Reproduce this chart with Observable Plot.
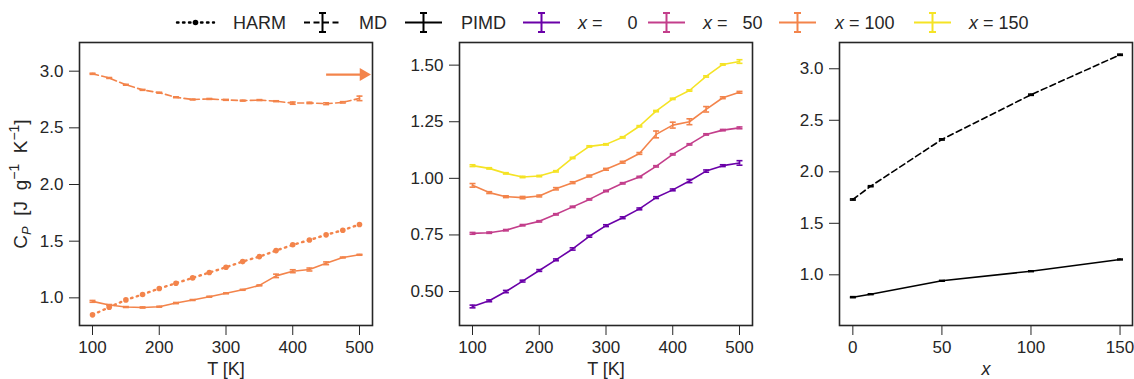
<!DOCTYPE html>
<html>
<head>
<meta charset="utf-8">
<script src="https://cdn.jsdelivr.net/npm/d3@7"></script>
<script src="https://cdn.jsdelivr.net/npm/@observablehq/plot@0.6"></script>
<style>
  html, body { margin: 0; padding: 0; background: #fff; }
  #root { position: relative; width: 1134px; height: 379px; overflow: hidden; font-family: "Liberation Sans", Arial, sans-serif; color: #262626; }
  .panel { position: absolute; top: 0; }
  .lab { position: absolute; font-size: 18px; color: #262626; white-space: nowrap; transform: translateX(-50%); }
</style>
</head>
<body>
<div id="root"></div>
<script>
// ---------------- data ----------------
const T = [100, 125, 150, 175, 200, 225, 250, 275, 300, 325, 350, 375, 400, 425, 450, 475, 500];

// x = 100 : harmonic, classical MD, PIMD (left panel)
const harm100 = [0.85, 0.917, 0.982, 1.03, 1.082, 1.129, 1.176, 1.223, 1.27, 1.32, 1.364, 1.417, 1.468, 1.51, 1.556, 1.597, 1.647];
const md100 = [2.977, 2.94, 2.88, 2.835, 2.81, 2.77, 2.75, 2.755, 2.747, 2.74, 2.745, 2.735, 2.718, 2.72, 2.713, 2.725, 2.76];
const md100Err = [0.005, 0.004, 0.004, 0.004, 0.004, 0.004, 0.004, 0.004, 0.004, 0.004, 0.004, 0.004, 0.01, 0.006, 0.008, 0.006, 0.02];

// PIMD, per x (middle panel)
const pimd0 = [0.434, 0.459, 0.5, 0.546, 0.593, 0.64, 0.688, 0.744, 0.791, 0.826, 0.865, 0.915, 0.949, 0.988, 1.032, 1.056, 1.068];
const pimd0Err = [0.006, 0.004, 0.005, 0.004, 0.004, 0.004, 0.005, 0.004, 0.004, 0.004, 0.004, 0.004, 0.004, 0.007, 0.005, 0.004, 0.01];
const pimd50 = [0.757, 0.76, 0.771, 0.793, 0.81, 0.841, 0.874, 0.907, 0.944, 0.978, 1.006, 1.053, 1.106, 1.15, 1.194, 1.213, 1.223];
const pimd50Err = [0.004, 0.003, 0.003, 0.003, 0.003, 0.003, 0.003, 0.003, 0.003, 0.003, 0.003, 0.003, 0.003, 0.003, 0.003, 0.003, 0.004];
const pimd100 = [0.969, 0.937, 0.919, 0.915, 0.922, 0.954, 0.981, 1.01, 1.04, 1.071, 1.11, 1.194, 1.235, 1.25, 1.305, 1.356, 1.38];
const pimd100Err = [0.008, 0.004, 0.004, 0.005, 0.004, 0.005, 0.004, 0.004, 0.004, 0.004, 0.004, 0.015, 0.013, 0.013, 0.012, 0.004, 0.004];
const pimd150 = [1.056, 1.044, 1.022, 1.006, 1.01, 1.031, 1.09, 1.141, 1.15, 1.181, 1.23, 1.297, 1.351, 1.388, 1.45, 1.503, 1.516];
const pimd150Err = [0.004, 0.003, 0.003, 0.003, 0.003, 0.003, 0.003, 0.003, 0.003, 0.003, 0.003, 0.003, 0.003, 0.003, 0.003, 0.003, 0.008];

// at T = 300 K vs x (right panel)
const X = [0, 10, 50, 100, 150];
const md300 = [1.731, 1.86, 2.314, 2.748, 3.136];
const md300Err = [0.006, 0.005, 0.006, 0.006, 0.006];
const pimd300 = [0.783, 0.812, 0.942, 1.035, 1.149];
const pimd300Err = [0.005, 0.004, 0.004, 0.004, 0.004];

// arrow in left panel
const arrowT = [450, 505];
const arrowCp = 2.97;

// tick labels
const tTicks = [100, 200, 300, 400, 500];
const leftTicks = [1.0, 1.5, 2.0, 2.5, 3.0];
const midTicks = [0.5, 0.75, 1.0, 1.25, 1.5];
const rightYTicks = [1.0, 1.5, 2.0, 2.5, 3.0];
const rightXTicks = [0, 50, 100, 150];

const legendLabels = ["HARM", "MD", "PIMD", "0", "50", "100", "150"];
const xValues = [0, 50, 100, 150];
const xColors = ["#6a00a8", "#c33e8b", "#f3844b", "#f5e325"];

// ---------------- helpers ----------------
const INK = "#262626";
const cap = { draw(ctx, size) { const r = Math.sqrt(size / Math.PI); ctx.moveTo(-r, 0); ctx.lineTo(r, 0); } };

function errMarks(xs, ys, es, color) {
  const d = xs.map((x, i) => ({ x, lo: ys[i] - es[i], hi: ys[i] + es[i] }));
  return [
    Plot.ruleX(d, { x: "x", y1: "lo", y2: "hi", stroke: color, strokeWidth: 1.6 }),
    Plot.dot(d, { x: "x", y: "lo", symbol: cap, r: 3, stroke: color, strokeWidth: 1.6 }),
    Plot.dot(d, { x: "x", y: "hi", symbol: cap, r: 3, stroke: color, strokeWidth: 1.6 })
  ];
}
function series(xs, ys) { return xs.map((x, i) => ({ x, y: ys[i] })); }

function axes(xTicks, yTicks, yFmt) {
  return [
    Plot.axisX({ ticks: xTicks, tickSize: 10, tickPadding: 5, label: null, stroke: INK, fill: INK, tickFormat: d3.format("d"), fontSize: 17 }),
    Plot.axisY({ ticks: yTicks, tickSize: 10, tickPadding: 6, label: null, stroke: INK, fill: INK, tickFormat: d3.format(yFmt), fontSize: 17 }),
    Plot.frame({ stroke: INK, strokeWidth: 1.6 })
  ];
}

const common = { height: 379, marginTop: 42, marginBottom: 54, marginLeft: 79, style: { fontFamily: "Liberation Sans, Arial, sans-serif", fontSize: "17px", color: INK, background: "transparent", overflow: "visible" } };

const root = document.getElementById("root");
function place(svg, left) { const w = document.createElement("div"); w.className = "panel"; w.style.left = left + "px"; w.appendChild(svg); root.appendChild(w); }

// ---------------- left panel ----------------
const c100 = xColors[2];
const left = Plot.plot({
  ...common, width: 378, marginRight: 6,
  x: { domain: [80.5, 519.5] },
  y: { domain: [0.756, 3.253] },
  marks: [
    Plot.line(series(T, harm100), { x: "x", y: "y", stroke: c100, strokeWidth: 2.4, strokeDasharray: "1.5,4.5", strokeLinecap: "round" }),
    Plot.dot(series(T, harm100), { x: "x", y: "y", r: 2.8, fill: c100 }),
    Plot.line(series(T, md100), { x: "x", y: "y", stroke: c100, strokeWidth: 1.6, strokeDasharray: "6,3.5" }),
    ...errMarks(T, md100, md100Err, c100),
    Plot.line(series(T, pimd100), { x: "x", y: "y", stroke: c100, strokeWidth: 1.6 }),
    ...errMarks(T, pimd100, pimd100Err, c100),
    Plot.link([0], { x1: () => arrowT[0], x2: () => arrowT[1], y1: () => arrowCp, y2: () => arrowCp, stroke: c100, strokeWidth: 2.2 }),
    Plot.dot([0], { x: () => arrowT[1] + 1, y: () => arrowCp, symbol: "triangle", rotate: 90, r: 4.8, fill: c100 }),
    ...axes(tTicks, leftTicks, ".1f")
  ]
});
place(left, 0);

// ---------------- middle panel ----------------
const pimdAll = [pimd0, pimd50, pimd100, pimd150];
const pimdErrAll = [pimd0Err, pimd50Err, pimd100Err, pimd150Err];
const midMarks = [];
pimdAll.forEach((ys, k) => {
  midMarks.push(Plot.line(series(T, ys), { x: "x", y: "y", stroke: xColors[k], strokeWidth: 1.6 }));
  midMarks.push(...errMarks(T, ys, pimdErrAll[k], xColors[k]));
});
const mid = Plot.plot({
  ...common, width: 378, marginRight: 6,
  x: { domain: [80.5, 519.5] },
  y: { domain: [0.35, 1.60] },
  marks: [...midMarks, ...axes(tTicks, midTicks, ".2f")]
});
place(mid, 380);

// ---------------- right panel ----------------
const right = Plot.plot({
  ...common, width: 374, marginRight: 2,
  x: { domain: [-7.5, 157] },
  y: { domain: [0.508, 3.255] },
  marks: [
    Plot.line(series(X, md300), { x: "x", y: "y", stroke: "#000", strokeWidth: 1.6, strokeDasharray: "6,3.5" }),
    ...errMarks(X, md300, md300Err, "#000"),
    Plot.line(series(X, pimd300), { x: "x", y: "y", stroke: "#000", strokeWidth: 1.6 }),
    ...errMarks(X, pimd300, pimd300Err, "#000"),
    ...axes(rightXTicks, rightYTicks, ".1f")
  ]
});
place(right, 760);

// ---------------- axis labels ----------------
function label(html, x, y, extra) {
  const d = document.createElement("div"); d.className = "lab"; d.style.left = x + "px"; d.style.top = y + "px"; d.innerHTML = html;
  if (extra) Object.assign(d.style, extra); root.appendChild(d);
}
label("T [K]", 226, 359);
label("T [K]", 606, 359);
label("<i>x</i>", 986, 359);

const ns = "http://www.w3.org/2000/svg";
const ysvg = document.createElementNS(ns, "svg");
ysvg.setAttribute("width", 40); ysvg.setAttribute("height", 379);
ysvg.style.position = "absolute"; ysvg.style.left = "0px"; ysvg.style.top = "0px";
ysvg.innerHTML = `<text transform="translate(27,184) rotate(-90)" text-anchor="middle" font-family="Liberation Sans, Arial, sans-serif" font-size="19" fill="${INK}" xml:space="preserve">C<tspan font-size="13" font-style="italic" dy="4">P</tspan><tspan dy="-4">  [J  g</tspan><tspan font-size="14" dy="-8">−1</tspan><tspan dy="8">  K</tspan><tspan font-size="14" dy="-8">−1</tspan><tspan dy="8">]</tspan></text>`;
root.appendChild(ysvg);

// ---------------- legend ----------------
const lg = document.createElementNS(ns, "svg");
lg.setAttribute("width", 1134); lg.setAttribute("height", 40);
lg.style.position = "absolute"; lg.style.left = "0px"; lg.style.top = "0px";
const yc = 22.5;
const items = [
  { x0: 177, tx: 233, kind: "harm", color: "#000", text: legendLabels[0] },
  { x0: 304, tx: 359, kind: "md", color: "#000", text: legendLabels[1] },
  { x0: 405, tx: 461, kind: "pimd", color: "#000", text: legendLabels[2] },
  { x0: 523, tx: 578, kind: "pimd", color: xColors[0], text: legendLabels[3], isX: true },
  { x0: 648, tx: 703, kind: "pimd", color: xColors[1], text: legendLabels[4], isX: true },
  { x0: 779, tx: 835, kind: "pimd", color: xColors[2], text: legendLabels[5], isX: true },
  { x0: 914, tx: 969, kind: "pimd", color: xColors[3], text: legendLabels[6], isX: true }
];
let s = "";
for (const it of items) {
  const x1 = it.x0 + 37, xm = it.x0 + 18.5;
  if (it.kind === "harm") {
    s += `<line x1="${it.x0}" x2="${x1}" y1="${yc}" y2="${yc}" stroke="#000" stroke-width="2.4" stroke-dasharray="1.5,4.5" stroke-linecap="round"/>`;
    s += `<circle cx="${xm}" cy="${yc}" r="2.8" fill="#000"/>`;
  } else {
    s += `<line x1="${it.x0}" x2="${x1}" y1="${yc}" y2="${yc}" stroke="${it.color}" stroke-width="1.8" ${it.kind === "md" ? 'stroke-dasharray="6,3.5"' : ""}/>`;
    s += `<line x1="${xm}" x2="${xm}" y1="${yc - 9.5}" y2="${yc + 9.5}" stroke="${it.color}" stroke-width="2"/>`;
    s += `<line x1="${xm - 3.5}" x2="${xm + 3.5}" y1="${yc - 9.5}" y2="${yc - 9.5}" stroke="${it.color}" stroke-width="2"/>`;
    s += `<line x1="${xm - 3.5}" x2="${xm + 3.5}" y1="${yc + 9.5}" y2="${yc + 9.5}" stroke="${it.color}" stroke-width="2"/>`;
  }
  if (it.isX) {
    const pad = it.text.length === 1 ? "\u2007\u2007" : it.text.length === 2 ? "\u2007" : "";
    s += `<text x="${it.tx}" y="${yc + 6.5}" font-family="Liberation Sans, Arial, sans-serif" font-size="18" fill="${INK}" xml:space="preserve"><tspan font-style="italic">x</tspan> = ${pad}${it.text}</text>`;
  } else {
    s += `<text x="${it.tx}" y="${yc + 6.5}" font-family="Liberation Sans, Arial, sans-serif" font-size="18" fill="${INK}">${it.text}</text>`;
  }
}
lg.innerHTML = s;
root.appendChild(lg);
</script>
</body>
</html>
